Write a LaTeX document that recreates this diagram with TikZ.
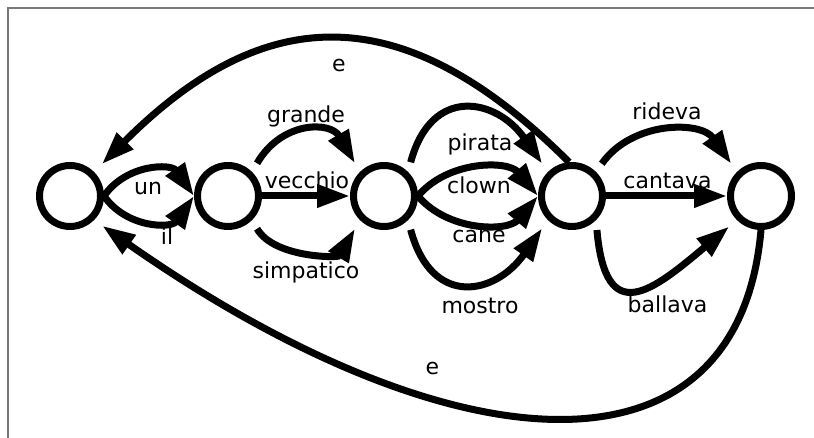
\documentclass[tikz,border=0pt]{standalone}
\usepackage{fontspec}
\setmainfont{DejaVu Sans}
\usetikzlibrary{arrows.meta, positioning}
\definecolor{framegray}{RGB}{120,120,120}

\begin{document}
\begin{tikzpicture}[
    x=1pt, y=1pt,
    fsm/.style={circle, draw=black, line width=7pt, minimum size=61pt, inner sep=0pt},
    trans/.style={-{Triangle[length=33pt, width=22pt]}, line width=7pt},
    gap/.style={shorten <=10pt, shorten >=10pt},
    lbl/.style={font=\fontsize{22}{26}\selectfont, inner sep=0pt}
]
\useasboundingbox (0,0) rectangle (814,438);
\draw[framegray, line width=1.5pt] (8,0) -- (8,430) -- (814,430);
% states
\node[fsm] (q0) at (70,242) {};
\node[fsm, right=90pt of q0] (q1) {};
\node[fsm, right=88pt of q1] (q2) {};
\node[fsm, right=120pt of q2] (q3) {};
\node[fsm, right=121pt of q3] (q4) {};
% transitions
\draw[trans] (q0.east) to[out=55, in=125, looseness=1.13] (q1.west);
\draw[trans] (q0.east) to[out=-55, in=-125, looseness=1.13] (q1.west);
\draw[trans, gap] (q1.45) to[out=60, in=120, looseness=1.4] (q2.135);
\draw[trans] (q1) -- (q2);
\draw[trans, gap] (q1.-45) to[out=-60, in=-120, looseness=1.04] (q2.-135);
\draw[trans, gap] (q2.45) to[out=75, in=125, looseness=1.65] (q3.135);
\draw[trans] (q2.east) to[bend left=50] (q3.west);
\draw[trans] (q2.east) to[bend right=50] (q3.west);
\draw[trans, gap] (q2.-45) to[out=-75, in=-125, looseness=1.68] (q3.-135);
\draw[trans, gap] (q3.45) to[out=55, in=125, looseness=1.14] (q4.135);
\draw[trans] (q3) -- (q4);
\draw[trans, gap] (q3.-45) to[out=-85, in=-140, looseness=2.0] (q4.-135);
\draw[trans, shorten >=11pt] (q3.95) to[out=135, in=45, distance=238pt] (q0.45);
\draw[trans, shorten >=10pt] (q4.south) to[out=-95, in=-35, out distance=265pt, in distance=430pt] (q0.-45);
% labels
\node[lbl] (l-un) at (148,249) {un};
\node[lbl] (l-il) at (167,201.5) {il};
\node[lbl] (l-grande) at (306,322) {grande};
\node[lbl] (l-vecchio) at (307,257.5) {vecchio};
\node[lbl] (l-simpatico) at (306,166) {simpatico};
\node[lbl] (l-pirata) at (480,294) {pirata};
\node[lbl] (l-clown) at (479,252.5) {clown};
\node[lbl] (l-cane) at (479,201.5) {cane};
\node[lbl] (l-mostro) at (480,132.5) {mostro};
\node[lbl] (l-rideva) at (667,326.5) {rideva};
\node[lbl] (l-cantava) at (667.5,257.5) {cantava};
\node[lbl] (l-ballava) at (667.5,134) {ballava};
\node[lbl] (l-e1) at (339,372) {e};
\node[lbl] (l-e2) at (432.5,69) {e};
\end{tikzpicture}
\end{document}
